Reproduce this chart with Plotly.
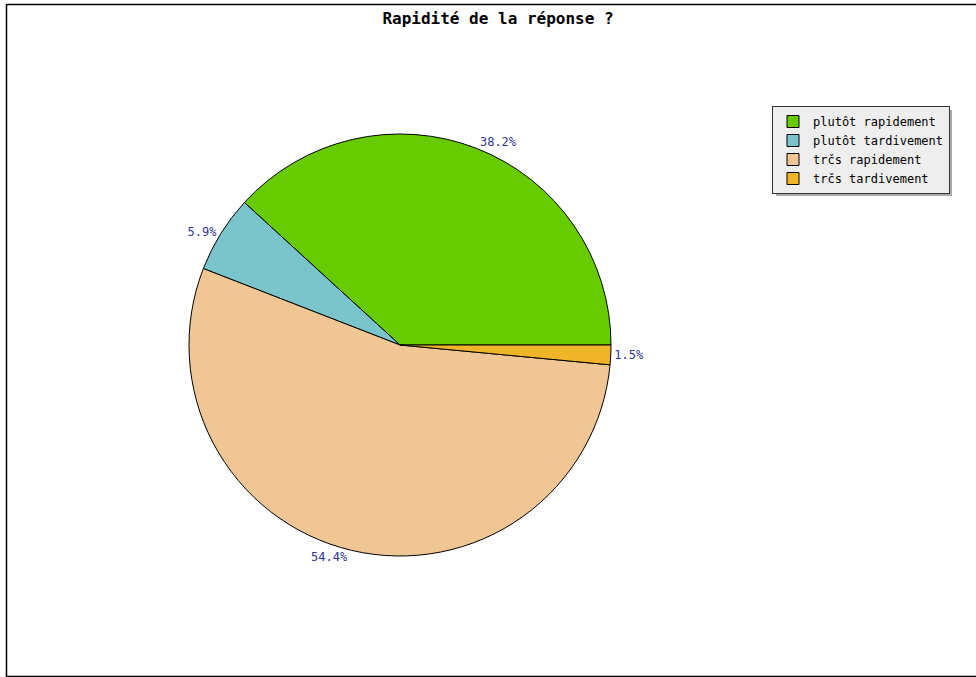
import plotly.graph_objects as go

labels = ["plutôt rapidement", "plutôt tardivement", "trčs rapidement", "trčs tardivement"]
values = [38.2, 5.9, 54.4, 1.5]
colors = ["#66cc00", "#7ac4cc", "#efc694", "#f0b428"]

W, H = 976, 677
cx, cy, r = 400, 345, 211

# first slice should start at 3 o'clock and run counterclockwise
first_share = values[0] / sum(values)
rotation = 90 - first_share * 360

fig = go.Figure(go.Pie(
    labels=labels, values=values, sort=False,
    direction="counterclockwise", rotation=rotation,
    marker=dict(colors=colors, line=dict(color="#000000", width=1)),
    textposition="outside", texttemplate="%{percent:.1%}",
    textfont=dict(family="DejaVu Sans Mono", size=12, color="#333399"),
    domain=dict(x=[(cx - r) / W, (cx + r) / W], y=[1 - (cy + r) / H, 1 - (cy - r) / H]),
    hoverinfo="label+percent",
))

fig.update_layout(
    width=W, height=H, margin=dict(l=0, r=0, t=0, b=0),
    paper_bgcolor="white", plot_bgcolor="white",
    title=dict(text="<b>Rapidité de la réponse ?</b>", x=498 / W, xanchor="center",
               y=1 - 18 / H, yanchor="middle",
               font=dict(family="DejaVu Sans Mono", size=16, color="#000000")),
    legend=dict(x=772 / W, y=1 - 106 / H, xanchor="left", yanchor="top",
                bgcolor="#eeeeee", bordercolor="#333333", borderwidth=1,
                font=dict(family="DejaVu Sans Mono", size=12, color="#000000"),
                itemwidth=30, tracegroupgap=0),
    shapes=[
        dict(type="rect", xref="paper", yref="paper", x0=6.5 / W, x1=1.01,
             y0=1 - 676.5 / H, y1=1 - 4.5 / H, line=dict(color="#000000", width=1.5)),
        dict(type="rect", xref="paper", yref="paper", x0=776 / W, x1=952 / W,
             y0=1 - 196 / H, y1=1 - 110 / H, fillcolor="#aaaaaa", line=dict(width=0),
             layer="above"),
    ],
)

fig.write_html("out.html")
